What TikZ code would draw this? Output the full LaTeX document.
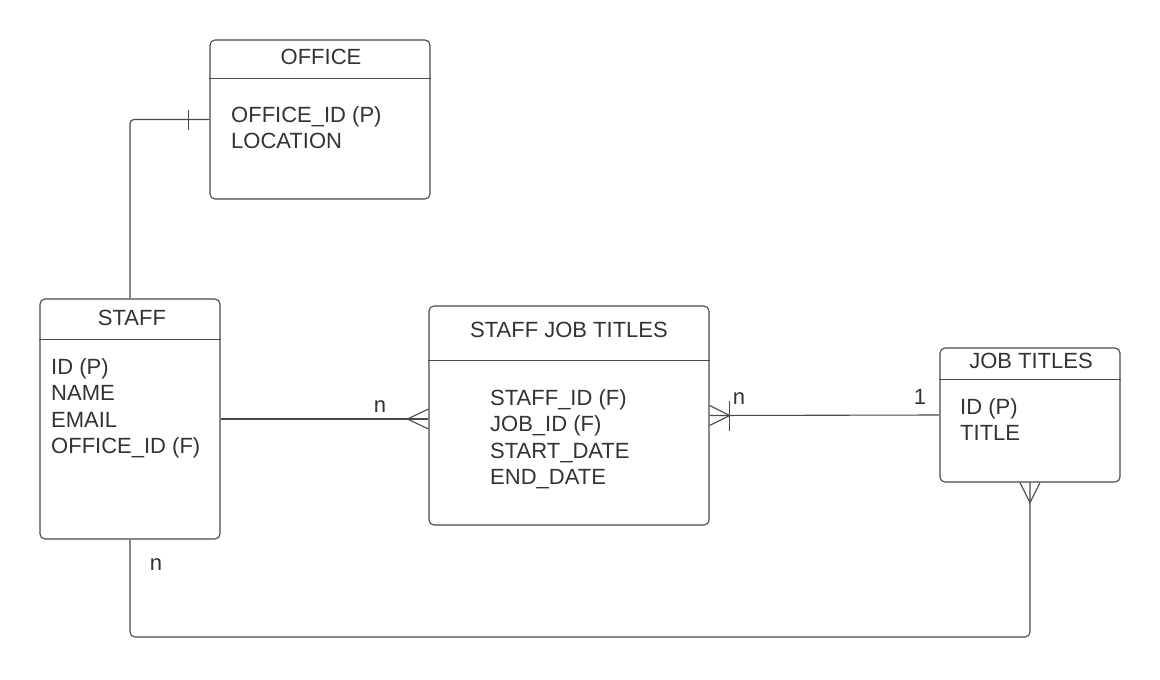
\documentclass[tikz,border=0pt]{standalone}
\usepackage{fontspec}
\setmainfont{Liberation Sans}
\usepackage{tikz}
\definecolor{linegray}{HTML}{4A4A4A}
\definecolor{textgray}{HTML}{333333}

\begin{document}
\begin{tikzpicture}
[
x=1pt, y=-1pt,
entity/.style={draw=linegray, line width=1.1pt, rounded corners=5pt, inner sep=0pt},
title/.style={text=textgray, inner sep=0pt, font=\fontsize{22}{26}\selectfont},
fields/.style={text=textgray, inner sep=0pt, align=left, anchor=north west, font=\fontsize{22}{26.5}\selectfont},
card/.style={text=textgray, inner sep=0pt, font=\fontsize{22}{26}\selectfont},
link/.style={draw=linegray, line width=1.1pt}
]
\fill[white] (0,0) rectangle (1160,680);
\useasboundingbox (0,0) rectangle (1160,680);

% entities
\node[entity, minimum width=220pt, minimum height=159pt] (office) at (320,119.5) {};
\node[entity, minimum width=180pt, minimum height=240pt] (staff) at (130,419) {};
\node[entity, minimum width=280pt, minimum height=219pt] (sjt) at (569,415.5) {};
\node[entity, minimum width=180pt, minimum height=134pt] (jt) at (1030,415) {};

\draw[link] ([yshift=-39pt]office.north west) -- ([yshift=-39pt]office.north east);
\draw[link] ([yshift=-41pt]staff.north west) -- ([yshift=-41pt]staff.north east);
\draw[link] ([yshift=-55pt]sjt.north west) -- ([yshift=-55pt]sjt.north east);
\draw[link] ([yshift=-32pt]jt.north west) -- ([yshift=-32pt]jt.north east);

\node[title] (officetitle) at (321,57) {OFFICE};
\node[title] (stafftitle) at (132,318) {STAFF};
\node[title] (sjttitle) at (569,330) {STAFF JOB TITLES};
\node[title] (jttitle) at (1031,361) {JOB TITLES};

\node[fields] (officefields) at (231,106) {OFFICE\_ID (P)\\LOCATION};
\node[fields] (stafffields) at (51,358) {ID (P)\\NAME\\EMAIL\\OFFICE\_ID (F)};
\node[fields] (sjtfields) at (490,389) {STAFF\_ID (F)\\JOB\_ID (F)\\START\_DATE\\END\_DATE};
\node[fields] (jtfields) at (960,398) {ID (P)\\TITLE};

% relationships
\draw[link, rounded corners=4pt] (staff.north) |- (office.west);
\draw[link] ([xshift=-21pt,yshift=10pt]office.west) -- ([xshift=-21pt,yshift=-10pt]office.west);

\draw[link] (staff.east) -- (staff.east -| sjt.west);
\draw[link] ([yshift=10pt]staff.east -| sjt.west) -- ([xshift=-21pt]staff.east -| sjt.west) -- ([yshift=-10pt]staff.east -| sjt.west);
\node[card] (n1) at (380,407) {n};

\draw[link] (sjt.east) -- (jt.west);
\draw[link] ([yshift=10pt]sjt.east) -- ([xshift=20pt]sjt.east) -- ([yshift=-10pt]sjt.east);
\draw[link] ([xshift=20pt,yshift=15pt]sjt.east) -- ([xshift=20pt,yshift=-15pt]sjt.east);
\node[card] (n2) at (739,399) {n};
\node[card] (one) at (920,397) {1};

\coordinate (low) at (0,637);
\draw[link, rounded corners=5pt] (staff.south) -- (staff.south |- low) -| (jt.south);
\draw[link] ([xshift=-10pt]jt.south) -- ([yshift=-20pt]jt.south) -- ([xshift=10pt]jt.south);
\node[card] (n3) at (156,565) {n};
\end{tikzpicture}
\end{document}
